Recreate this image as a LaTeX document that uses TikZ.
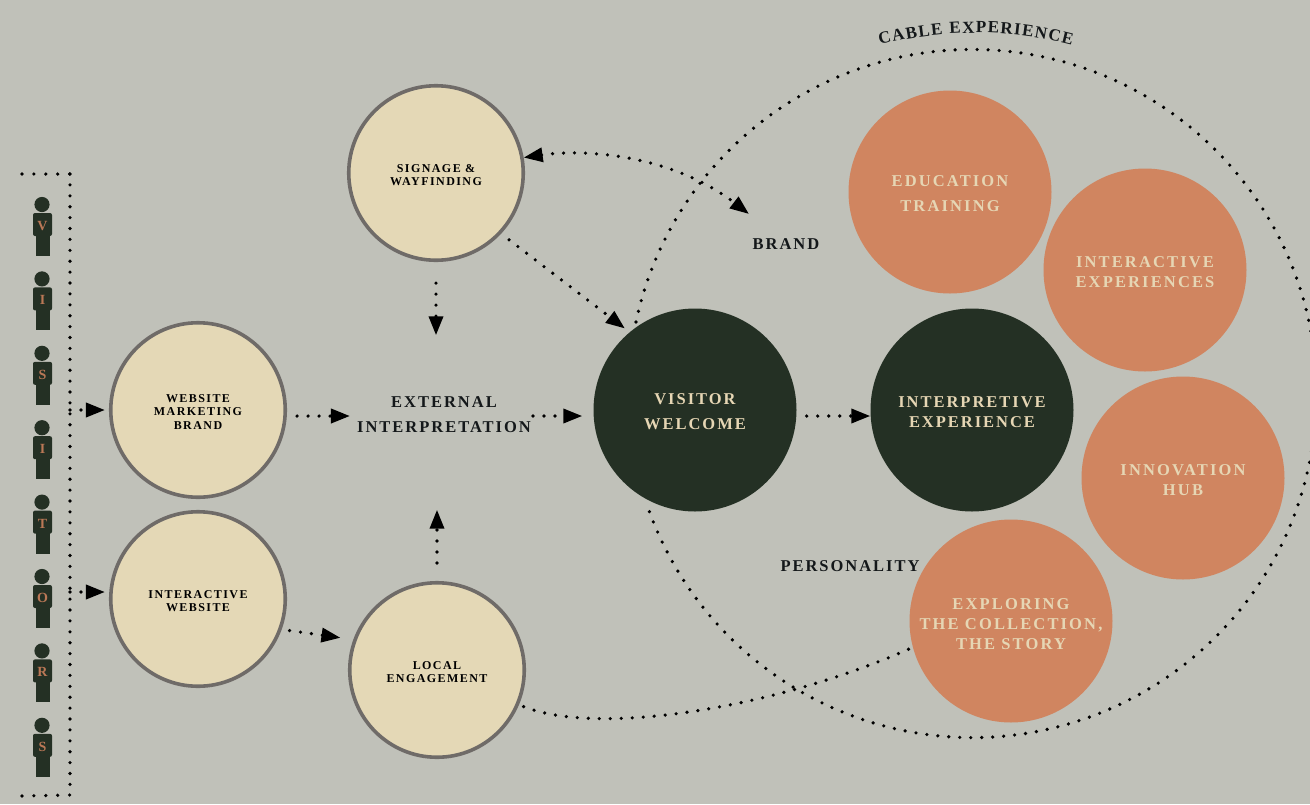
\documentclass[tikz,border=0pt]{standalone}
\usepackage{fontspec}
\setmainfont{Liberation Serif}
\newfontfamily\ls[LetterSpace=13]{Liberation Serif Bold}
\newfontfamily\lsb[LetterSpace=12]{Liberation Serif Bold}
\usetikzlibrary{arrows.meta,decorations.text}
\definecolor{bgc}{HTML}{C0C1B9}
\definecolor{darkc}{HTML}{243024}
\definecolor{creamc}{HTML}{E4D8B6}
\definecolor{edgec}{HTML}{6F6B68}
\definecolor{orc}{HTML}{D08560}
\definecolor{ltxt}{HTML}{E6D6B4}
\definecolor{inkc}{HTML}{14181A}
\newcommand\tdown[1]{\rule{0pt}{#1pt}}
\tikzset{
  x=1pt,y=-1pt,
  cream/.style={circle,draw=edgec,line width=3.6pt,fill=creamc,inner sep=0pt,minimum size=174.5pt,align=center,text=black,font=\lsb\fontsize{12}{13.3}\selectfont},
  dark/.style={circle,fill=darkc,inner sep=0pt,minimum size=203pt,align=center,text=ltxt,font=\lsb\fontsize{16.5}{25}\selectfont},
  orange/.style={circle,fill=orc,inner sep=0pt,minimum size=203pt,align=center,text=ltxt,font=\ls\fontsize{16.5}{20}\selectfont},
  lab/.style={inner sep=0pt,align=center,text=inkc,font=\lsb\fontsize{16.5}{25}\selectfont},
  dots/.style={draw=black,line width=3.6pt,line cap=round,dash pattern=on 0pt off 11pt},
  arr/.style={dots,-{Triangle[length=19pt,width=14pt]}},
  arrb/.style={dots,{Triangle[length=19pt,width=14pt]}-{Triangle[length=19pt,width=14pt]}},
  body/.style={fill=darkc,draw=none},
  letter/.style={inner sep=0pt,font=\bfseries\fontsize{14}{14}\selectfont,text=orc!90!black},
}
\begin{document}
\begin{tikzpicture}
\useasboundingbox (0,0) rectangle (1310,804);
\fill[bgc] (0,0) rectangle (1310,804);
% people
\foreach \n/\l/\yy in {a/V/0,b/I/74.4,c/S/148.8,d/I/223.2,e/T/297.6,f/O/372,g/R/446.4,h/S/520.8}{
  \begin{scope}[yshift=-\yy pt]
    \fill[body] (42,204.5) circle[radius=7.6pt];
    \fill[body,rounded corners=2pt] (33,236) -- (33,213) -- (52,213) -- (52,236) -- cycle;
    \fill[body] (36,230) rectangle (49.5,256);
    \node[letter] (p\n) at (42.5,226) {\l};
  \end{scope}
}
% circles
\node[cream] (sign) at (436,173) {\tdown{12}SIGNAGE \&\\WAYFINDING};
\node[cream] (web) at (198,410) {\tdown{12}WEBSITE\\MARKETING\\BRAND};
\node[cream] (iweb) at (198,599) {\tdown{12}INTERACTIVE\\WEBSITE};
\node[cream] (local) at (437,670) {\tdown{12}LOCAL\\ENGAGEMENT};
\node[dark] (welcome) at (695,410) {\tdown{15}VISITOR\\WELCOME};
\node[dark,font=\lsb\fontsize{16.5}{20}\selectfont] (interp) at (972,410) {\tdown{15}INTERPRETIVE\\EXPERIENCE};
\node[orange,font=\ls\fontsize{16.5}{25}\selectfont] (edu) at (950,192) {\tdown{15}EDUCATION\\TRAINING};
\node[orange] (iexp) at (1145,270) {\tdown{15}INTERACTIVE\\EXPERIENCES};
\node[orange] (hub) at (1183,478) {\tdown{15}INNOVATION\\HUB};
\node[orange] (story) at (1011,621) {\tdown{17}EXPLORING\\THE COLLECTION,\\THE STORY};
% labels
\node[lab] (ext) at (444,414.5) {EXTERNAL\\INTERPRETATION};
\node[lab] (brand) at (786,244) {BRAND};
\node[lab] (pers) at (850,566) {PERSONALITY};
% free ends
\coordinate (brandtip) at (749,214);
\coordinate (bigstart) at (636,322);
\coordinate (tl) at (22,174);
\coordinate (tr) at (70,174);
\coordinate (br) at (70,795);
\coordinate (bl) at (22,796);
\coordinate (w1) at (70,410);
\coordinate (w2) at (70,592);
\coordinate (capstart) at (880,45);
\coordinate (extl) at ([yshift=-1.5pt]ext.west);
\coordinate (extr) at ([yshift=-1.5pt]ext.east);
% bracket
\draw[dots,dash pattern=on 0pt off 11.9pt] (tl) -- (tr);
\draw[dots,dash pattern=on 0pt off 10.9pt] (tr) -- (br);
\draw[dots,dash pattern=on 0pt off 11.9pt] (bl) -- (br);
% big circle
\draw[dots] (bigstart) arc[start angle=168,end angle=-161.7,radius=344pt];
% curves
\draw[dots,shorten <=5pt] (local.-23) .. controls (600,737) and (780,707) .. (story.195);
\draw[arrb] (sign.10) .. controls (590,148) and (675,157) .. (brandtip);
% straight arrows
\draw[arr,shorten <=10pt,shorten >=6pt] (sign.-43) -- (welcome.130);
\draw[arr,shorten <=21pt,shorten >=61pt] (sign.south) -- (sign.south |- ext.north);
\draw[arr,shorten <=18pt,shorten >=77pt] (local.north) -- (local.north |- ext.south);
\draw[arr,shorten <=10pt,shorten >=7pt] (web.east |- extl) -- (extl);
\draw[arr,shorten <=2pt,shorten >=11pt] (extr) -- (welcome.west |- extr);
\draw[arr,shorten <=10pt] (welcome.east |- extr) -- (interp.west |- extr);
\draw[arr,shorten <=8pt,shorten >=13pt] (iweb.-20) -- (local.160);
\draw[arr,shorten >=4pt] (w1) -- (web.west);
\draw[arr,shorten >=4pt] (w2) -- (w2 -| iweb.west);
% curved caption
\path[decorate,decoration={text along path,text align={fit to path},
  text={|\bfseries\fontsize{17}{17}\selectfont\color{inkc}|CABLE EXPERIENCE}}]
  (capstart) arc[start angle=104.5,end angle=75.5,radius=383pt];
\end{tikzpicture}
\end{document}
